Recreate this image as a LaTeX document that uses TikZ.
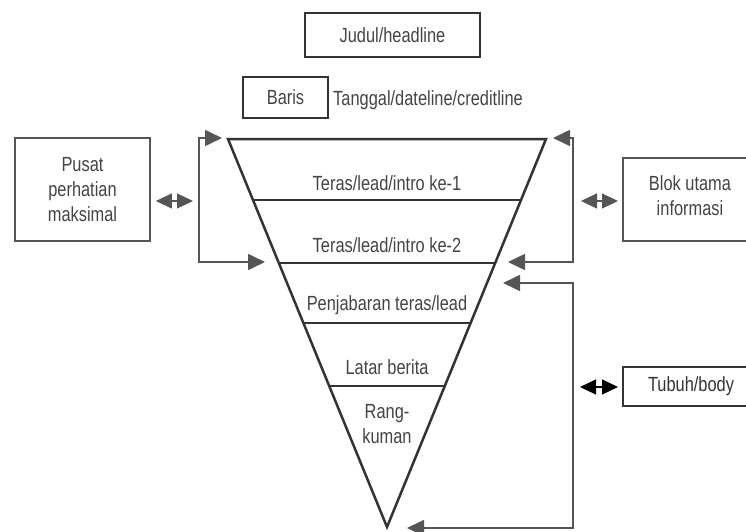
\documentclass[tikz,border=0pt]{standalone}
\usepackage{fontspec}
\setmainfont{Liberation Sans}[FakeStretch=0.8]
\usetikzlibrary{arrows.meta,calc}
\definecolor{ln}{HTML}{555555}
\definecolor{dk}{HTML}{333333}
\definecolor{tx}{HTML}{444444}
\begin{document}
\begin{tikzpicture}[x=1pt,y=-1pt,
  every node/.style={text=tx,font=\fontsize{20.5}{25}\selectfont,inner sep=0pt},
  thickbox/.style={draw=dk,line width=2.5pt,rectangle},
  thinbox/.style={draw=ln,line width=1.8pt,rectangle},
  band/.style={draw=dk,line width=2.5pt},
  bracket/.style={draw=ln,line width=1.6pt,{Triangle[length=17pt,width=16pt]}-{Triangle[length=17pt,width=16pt]}},
  dbl/.style={draw=ln,line width=1.2pt,{Triangle[length=16pt,width=15pt]}-{Triangle[length=16pt,width=15pt]}},
  lbl/.style={align=center}]
\useasboundingbox (0,0) rectangle (746,532);
\clip (0,0) rectangle (746,532);
% top boxes
\node[thickbox,minimum width=175pt,minimum height=44pt] (judul) at (392.5,35) {Judul/headline};
\node[thickbox,minimum width=85pt,minimum height=41pt] (baris) at (285.5,97.5) {Baris};
\node[anchor=west] (tanggal) at (333,100) {Tanggal/dateline/creditline};
% inverted triangle
\coordinate (tl) at (228,139);
\coordinate (tr) at (546,139);
\coordinate (ap) at (387,527);
\draw[band,line join=miter] (tl) -- (tr) -- (ap) -- cycle;
\foreach \t/\n in {0.157/a,0.320/b,0.474/c,0.637/d}{
  \coordinate (L\n) at ($(tl)!\t!(ap)$);
  \coordinate (R\n) at ($(tr)!\t!(ap)$);
  \draw[band] (L\n) -- (R\n);
}
\node (t1) at (387,183) {Teras/lead/intro ke-1};
\node (t2) at (387,245) {Teras/lead/intro ke-2};
\node (t3) at (387,305) {Penjabaran teras/lead};
\node (t4) at (387,367) {Latar berita};
\node[lbl] (t5) at (387,424) {Rang-\\kuman};
% left side
\node[thinbox,lbl,minimum width=135pt,minimum height=103pt] (pusat) at (82.5,189.5) {Pusat\\perhatian\\maksimal};
\coordinate (lbt) at (222,138);
\coordinate (lbb) at (265,262);
\coordinate (lbx) at (199,201);
\draw[bracket] (lbb) -- (199,262) -- (199,138) -- (lbt);
\draw[dbl] ([xshift=5pt]pusat.east |- lbx) -- ([xshift=-6pt]lbx);
% right side
\node[lbl] (blok) at (690,196) {Blok utama\\informasi};
\coordinate (blokw) at (623,201);
\draw[thinbox] (623,158) rectangle (770,241);
\coordinate (rbt) at (553,138);
\coordinate (rbb) at (508,262);
\coordinate (rbx) at (573,201);
\draw[bracket] (rbt) -- (573,138) -- (573,262) -- (rbb);
\draw[dbl] ([xshift=8pt]rbx) -- ([xshift=-5pt]blokw);
% body
\node[text=dk] (tubuh) at (691,386.5) {Tubuh/body};
\coordinate (tubuhw) at (623,387);
\draw[draw=dk,line width=2pt] (623,367) rectangle (770,406);
\coordinate (bbt) at (503,283);
\coordinate (bbb) at (407,528);
\coordinate (bbx) at (573,387);
\draw[bracket] (bbt) -- (573,283) -- (573,528) -- (bbb);
\draw[dbl,draw=black] ([xshift=7pt]bbx) -- ([xshift=-5pt]tubuhw);
\end{tikzpicture}
\end{document}
